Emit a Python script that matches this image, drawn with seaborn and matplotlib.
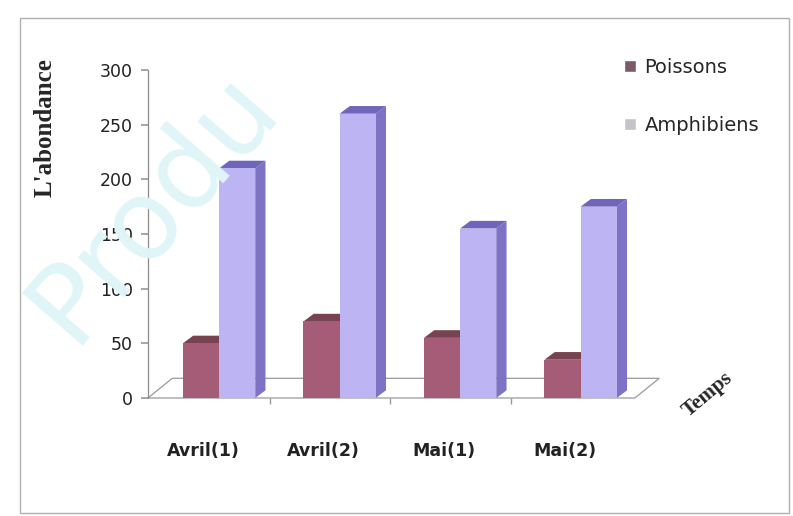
import seaborn as sns
import pandas as pd
import numpy as np
import matplotlib.pyplot as plt
import matplotlib.transforms as mtransforms
from matplotlib.patches import Rectangle, Polygon

# data
periods = ["Avril(1)", "Avril(2)", "Mai(1)", "Mai(2)"]
poissons = [50, 70, 55, 35]
amphibiens = [210, 260, 155, 175]
series = ["Poissons", "Amphibiens"]

df = pd.DataFrame({
    "Temps": periods * 2,
    "abondance": poissons + amphibiens,
    "groupe": [series[0]] * 4 + [series[1]] * 4,
})

front = {"Poissons": "#A55C76", "Amphibiens": "#BDB4F4"}
side = {"Poissons": "#87405A", "Amphibiens": "#7D72C4"}
top = {"Poissons": "#76434F", "Amphibiens": "#6F66BC"}

sns.set_theme(style="white")
fig = plt.figure(figsize=(7.93, 5.16), dpi=100)
ax = fig.add_axes([0.1866, 0.2287, 0.614, 0.6357])

# watermark
fig.text(0.09, 0.33, "Produ", fontsize=80, color="#E0F5F7", rotation=49,
         rotation_mode="anchor", ha="left", va="baseline", zorder=0,
         family="DejaVu Sans")

sns.barplot(data=df, x="Temps", y="abondance", hue="groupe", palette=front,
            width=0.6, dodge=True, saturation=1, ax=ax, legend=False,
            edgecolor="none")

ax.set_xlim(-0.59, 3.45)
ax.set_ylim(0, 300)

# fake 3D depth on each bar
dx, dy = 0.085, 7
for i, p in enumerate(ax.patches):
    name = series[0] if i < 4 else series[1]
    z = 2 if i < 4 else 3
    p.set_zorder(z)
    x0, w, h = p.get_x(), p.get_width(), p.get_height()
    x1 = x0 + w
    ax.add_patch(Polygon([(x1, 0), (x1 + dx, dy), (x1 + dx, h + dy), (x1, h)],
                         closed=True, fc=side[name], ec="none", zorder=z - 0.1,
                         clip_on=False))
    ax.add_patch(Polygon([(x0, h), (x0 + dx, h + dy), (x1 + dx, h + dy), (x1, h)],
                         closed=True, fc=top[name], ec="none", zorder=z - 0.1,
                         clip_on=False))

# floor
ax.add_patch(Polygon([(0, 0), (1, 0), (1.05, 0.06), (0.05, 0.06)], closed=True,
                     transform=ax.transAxes, fc="white", ec="#9a9a9a", lw=0.9,
                     zorder=1, clip_on=False))

for s in ["top", "right", "bottom"]:
    ax.spines[s].set_visible(False)
ax.spines["left"].set_color("#8c8c8c")
ax.spines["left"].set_linewidth(0.9)

ax.set_yticks(np.arange(0, 301, 50))
ax.tick_params(axis="y", left=True, length=5, color="#9a9a9a", labelsize=12.5,
               pad=6, labelcolor="#222222")
ax.set_xticks(range(len(periods)))
ax.set_xticklabels(periods, fontsize=12.5, fontweight="bold", color="#222222")
ax.tick_params(axis="x", bottom=False, pad=26)
off = mtransforms.ScaledTranslation(-0.16, 0, fig.dpi_scale_trans)
for lab in ax.get_xticklabels():
    lab.set_transform(lab.get_transform() + off)
ax.set_xticks([0.42, 1.42, 2.42], minor=True)
ax.tick_params(axis="x", which="minor", bottom=True, length=4, color="#9a9a9a")

ax.set_xlabel("")
ax.set_ylabel("")
fig.text(0.057, 0.752, "L'abondance", rotation=90, ha="center", va="center",
         fontsize=18, fontweight="bold", family="Liberation Serif")
fig.text(0.893, 0.235, "Temps", rotation=40, ha="center", va="center",
         fontsize=15, fontweight="bold", family="Liberation Serif")

# legend
handles = [Rectangle((0, 0), 1, 1, fc="#7E5A66"), Rectangle((0, 0), 1, 1, fc="#C4C4C8")]
fig.legend(handles, series, loc="upper left", bbox_to_anchor=(0.765, 0.922),
           frameon=False, fontsize=14, labelspacing=2.0, handlelength=0.6,
           handleheight=0.6, handletextpad=0.45)

# chart border
fig.patches.append(Rectangle((0.025, 0.006), 0.97, 0.96, transform=fig.transFigure,
                             fill=False, ec="#b0b0b0", lw=1))

fig.savefig("out.png", dpi=100)
